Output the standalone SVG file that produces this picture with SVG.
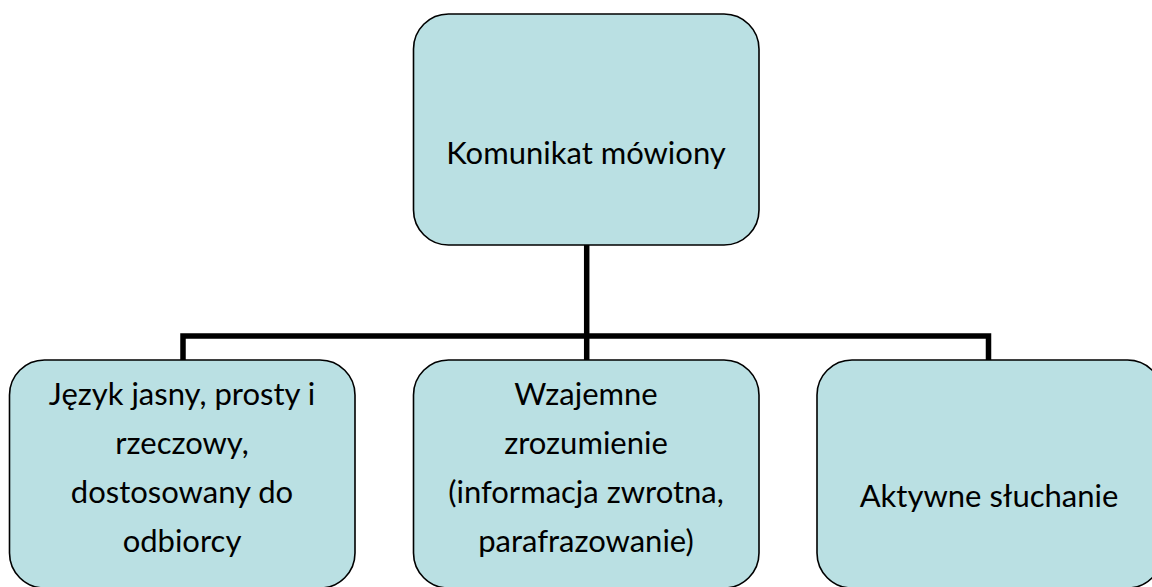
<svg xmlns="http://www.w3.org/2000/svg" width="1152" height="587" viewBox="0 0 1152 587">
<style>
.box{fill:#BAE0E3;stroke:#000;stroke-width:1.6}
.lbl{font-family:Lato,"Open Sans","Liberation Sans",sans-serif;font-size:31px;fill:#000;text-anchor:middle}
.con{fill:none;stroke:#000;stroke-width:5.5;stroke-linejoin:miter;stroke-linecap:butt}
</style>
<rect width="1152" height="587" fill="#fff"/>
<g id="connectors">
<path class="con" d="M586.7 245 V360"/>
<path class="con" d="M183 360 V336 H988.5 V360"/>
</g>
<g id="node-top">
<rect class="box" x="413.5" y="14" width="345.5" height="231" rx="35" ry="35"/>
<text class="lbl" x="586" y="164">Komunikat mówiony</text>
</g>
<g id="node-left">
<rect class="box" x="9.5" y="360" width="345.5" height="228" rx="35" ry="35"/>
<text class="lbl" x="182" y="405">Język jasny, prosty i</text>
<text class="lbl" x="182" y="454">rzeczowy,</text>
<text class="lbl" x="182" y="503">dostosowany do</text>
<text class="lbl" x="182" y="552">odbiorcy</text>
</g>
<g id="node-middle">
<rect class="box" x="413.5" y="360" width="345.5" height="228" rx="35" ry="35"/>
<text class="lbl" x="586" y="405">Wzajemne</text>
<text class="lbl" x="586" y="454">zrozumienie</text>
<text class="lbl" x="586" y="503">(informacja zwrotna,</text>
<text class="lbl" x="586" y="552">parafrazowanie)</text>
</g>
<g id="node-right">
<rect class="box" x="817" y="360" width="345.5" height="228" rx="35" ry="35"/>
<text class="lbl" x="989" y="507">Aktywne słuchanie</text>
</g>
</svg>
